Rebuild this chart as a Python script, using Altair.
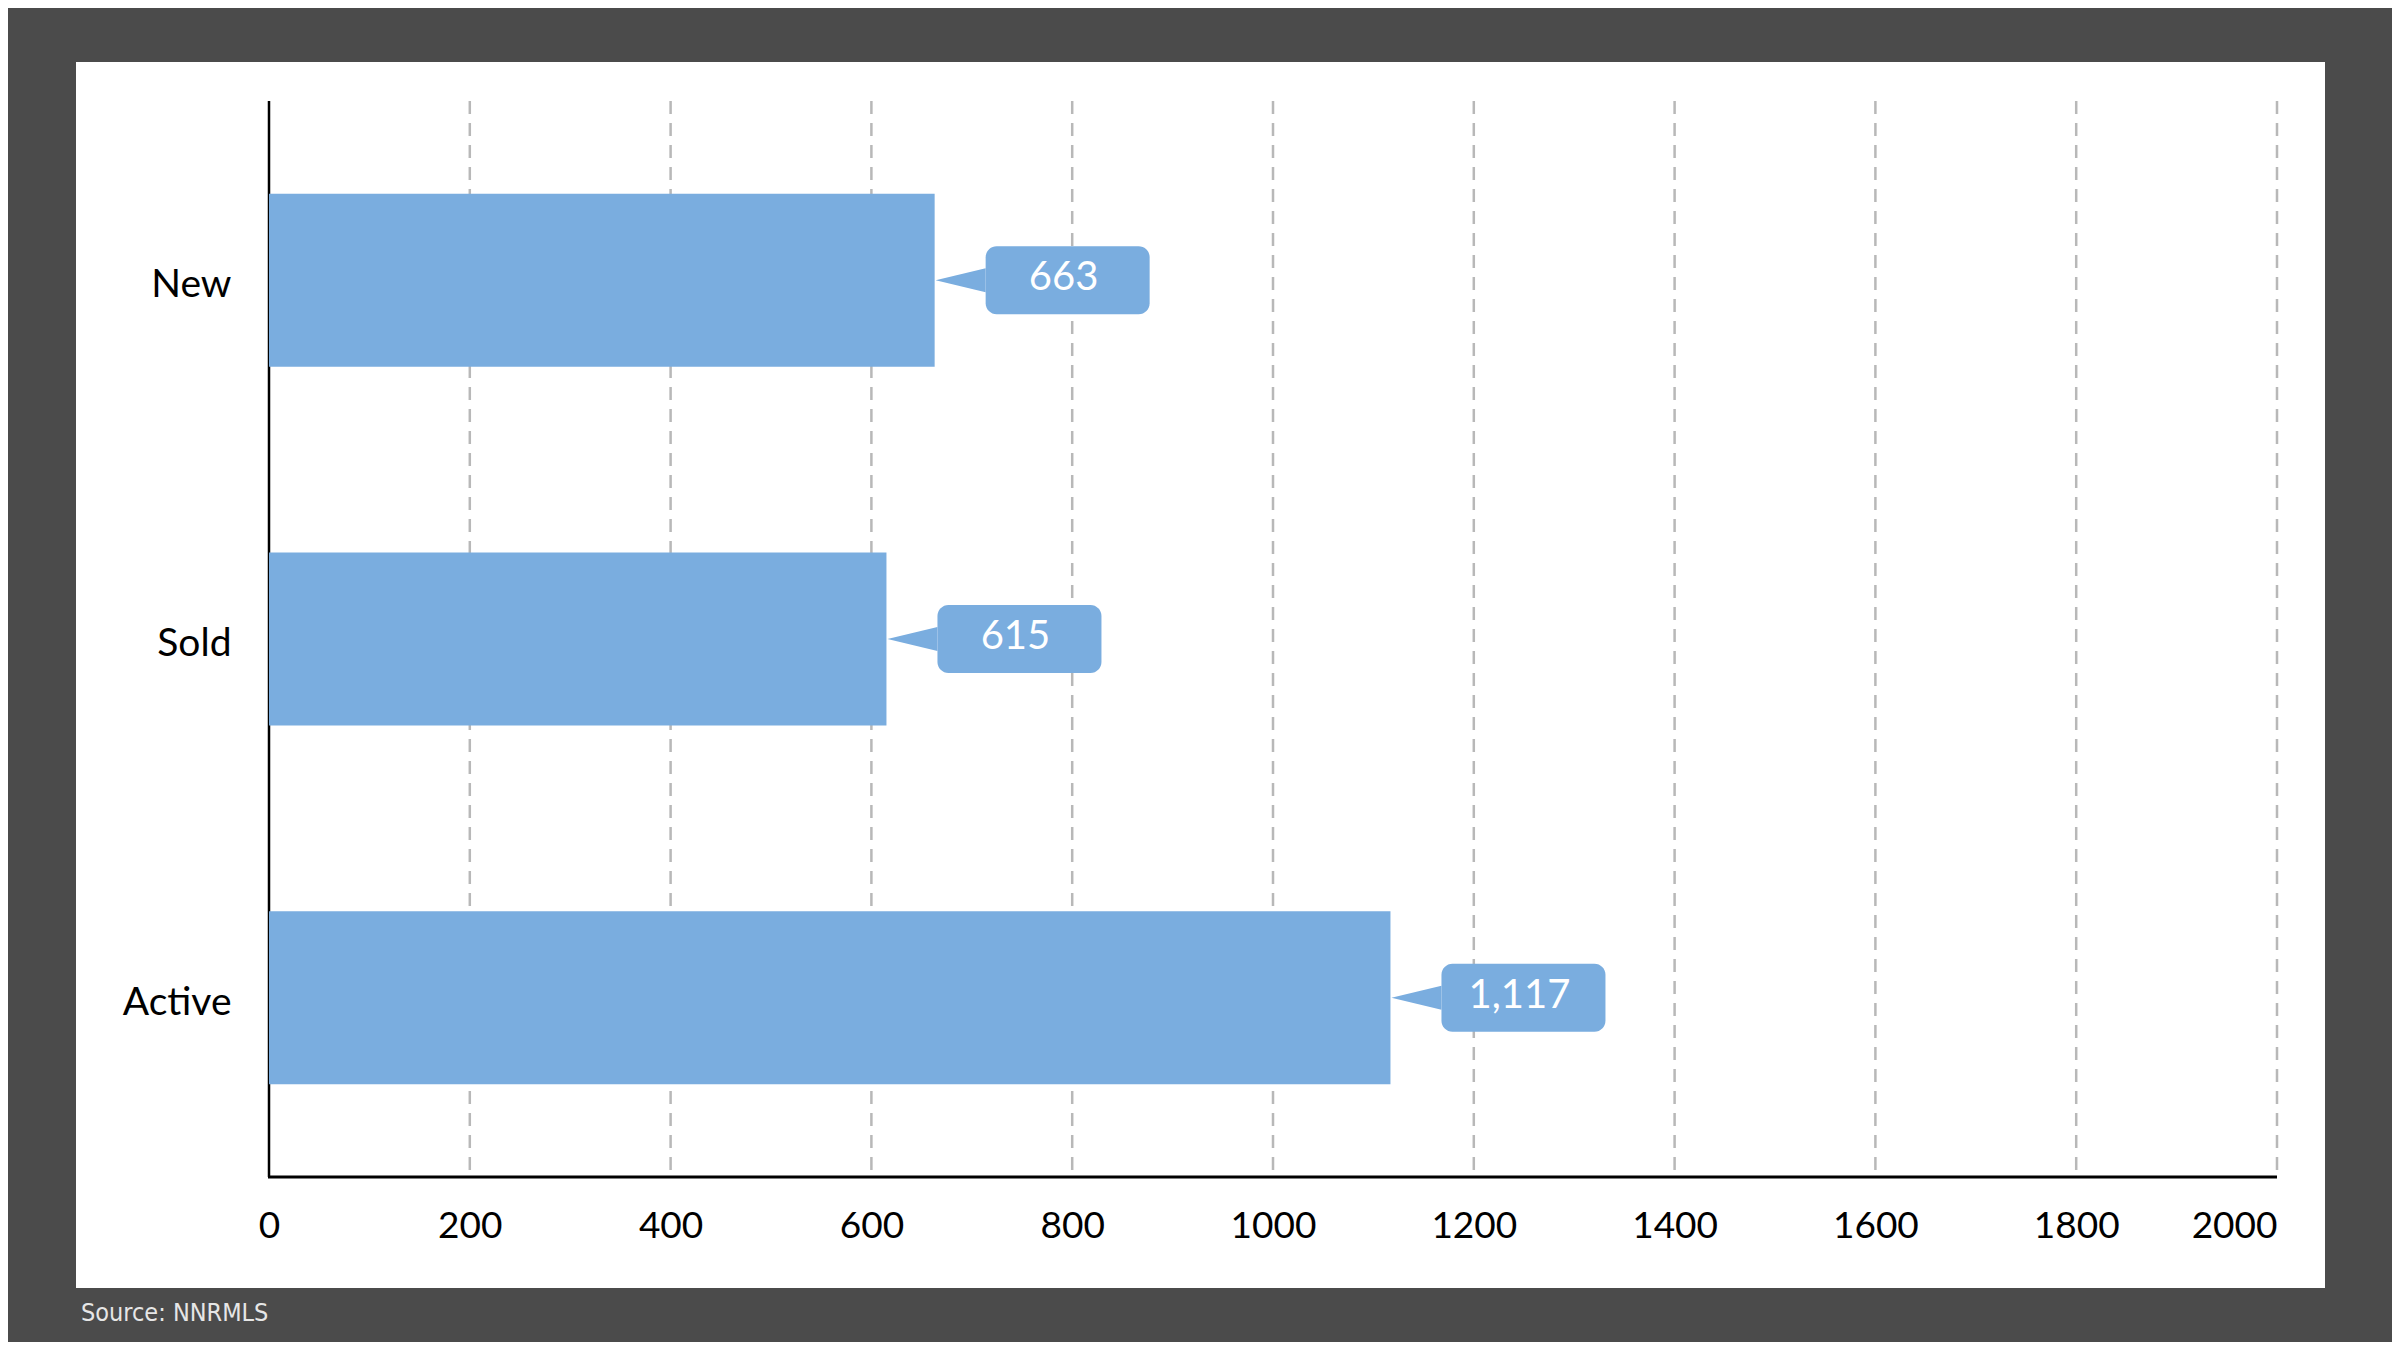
import altair as alt
import pandas as pd

categories = ["New", "Sold", "Active"]
values = [663, 615, 1117]
value_labels = ["663", "615", "1,117"]
grid_ticks = [200, 400, 600, 800, 1000, 1200, 1400, 1600, 1800, 2000]
source_text = "Source: NNRMLS"

df = pd.DataFrame({"category": categories, "value": values, "label": value_labels})
grid_df = pd.DataFrame({"tick": grid_ticks})

W, H = 2008, 1076
BAR = "#7aaddf"
FONT = "Lato"

yenc = alt.Y("category:N", sort=categories,
             scale=alt.Scale(paddingInner=0.52, paddingOuter=0.26),
             axis=alt.Axis(title=None, domain=False, ticks=False, grid=False,
                           labelFont=FONT, labelFontSize=39, labelColor="#000000",
                           labelPadding=38, labelOffset=5, zindex=1))
xscale = alt.Scale(domain=[0, 2000], nice=False)

panel = alt.Chart(pd.DataFrame({"a": [0]})).mark_rect(color="#ffffff").encode(
    x=alt.value(-193), x2=alt.value(2056), y=alt.value(-39), y2=alt.value(1187))

grid = alt.Chart(grid_df).mark_rule(color="#b8b8b8", strokeWidth=2.5, strokeDash=[13, 9]).encode(
    x=alt.X("tick:Q", scale=xscale))

yline = alt.Chart(pd.DataFrame({"a": [0]})).mark_rule(color="#000000", strokeWidth=2.5).encode(
    x=alt.datum(0, scale=xscale))
xline = alt.Chart(pd.DataFrame({"a": [0]})).mark_rule(color="#000000", strokeWidth=3).encode(
    y=alt.value(H), x=alt.value(-1), x2=alt.value(W))

bars = alt.Chart(df).mark_bar(color=BAR, height=173).encode(
    x=alt.X("value:Q", scale=xscale,
            axis=alt.Axis(title=None, domain=False, ticks=False, grid=False,
                          values=[0] + grid_ticks, format="d",
                          labelFont=FONT, labelFontSize=37, labelColor="#000000",
                          labelPadding=31, zindex=1,
                          labelAlign=alt.expr("datum.value == 2000 ? 'right' : 'center'"))),
    y=yenc)

pointer = alt.Chart(df).mark_point(
    shape="M-1,0L1,-0.48L1,0.48Z", size=2500, filled=True, opacity=1, color=BAR,
    xOffset=26).encode(x=alt.X("value:Q", scale=xscale), y=alt.Y("category:N", sort=categories))

box = alt.Chart(df).mark_bar(color=BAR, height=68, cornerRadius=11, xOffset=51, x2Offset=215).encode(
    x=alt.X("value:Q", scale=xscale), x2="value:Q", y=alt.Y("category:N", sort=categories))

text = alt.Chart(df).mark_text(color="#ffffff", font=FONT, fontSize=40, dx=129, dy=-2,
                               align="center", baseline="middle").encode(
    x=alt.X("value:Q", scale=xscale), y=alt.Y("category:N", sort=categories), text="label:N")

source = alt.Chart(pd.DataFrame({"t": [source_text]})).mark_text(
    color="#e6e6e6", font="DejaVu Sans Condensed, Roboto Condensed, Roboto", fontSize=25,
    align="left", baseline="middle").encode(
    x=alt.value(-188), y=alt.value(1212), text="t:N")

chart = alt.layer(panel, grid, yline, xline, bars, pointer, box, text, source).properties(
    width=W, height=H,
    autosize=alt.AutoSizeParams(type="none"),
    padding={"left": 261, "top": 93, "right": 115, "bottom": 165},
    background="#4b4b4b",
).configure_view(stroke=None)

chart.save("out.html", embed_options={"renderer": "svg", "actions": False})
